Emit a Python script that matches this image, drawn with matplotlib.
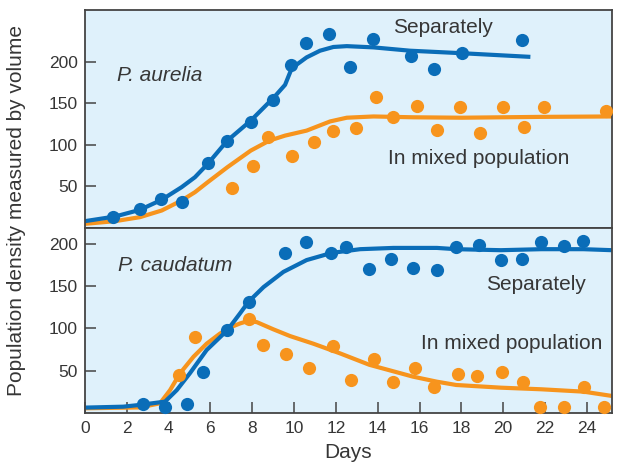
import matplotlib
matplotlib.use("Agg")
import matplotlib.pyplot as plt

# ---------------- data ----------------
# Top panel: P. aurelia
aur_sep_days = [1.35, 2.63, 3.62, 4.63, 5.87, 6.78, 7.94, 9.01, 9.86, 10.57, 11.67,
                12.68, 13.79, 15.58, 16.70, 18.04, 20.9]
aur_sep_vals = [13.6, 22.4, 34.4, 31.6, 77.6, 104.8, 126.8, 154, 195.6, 222.4, 232.9,
                192.9, 226.5, 206.5, 190.5, 209.7, 225.7]
aur_sep_curve_days = [0.0, 1.44, 2.63, 3.67, 4.62, 5.26, 5.87, 6.81, 7.93, 9.04, 9.57,
                      9.89, 10.6, 11.24, 11.88, 12.52, 13.8, 15.55, 18.02, 21.3]
aur_sep_curve_vals = [8.2, 13.8, 21.8, 33.9, 49, 61, 77, 105, 129, 157, 172,
                      192, 205, 213, 217.5, 218.5, 217, 213, 210, 205.6]

aur_mix_days = [7.05, 8.02, 8.77, 9.89, 10.97, 11.85, 12.95, 13.91, 14.75, 15.9, 16.83,
                17.94, 18.9, 19.98, 21.0, 21.96, 24.9]
aur_mix_vals = [47.6, 74.4, 109.6, 86.4, 103.6, 116.4, 119.7, 156.9, 132.9, 146.5, 117.6,
                145.6, 113.7, 145.6, 121.6, 145.6, 140.8]
aur_mix_curve_days = [0.0, 1.44, 2.63, 3.67, 4.62, 5.26, 5.87, 6.81, 7.93, 8.82, 9.57,
                      10.6, 11.72, 12.52, 13.8, 15.71, 18.02, 21.8, 25.2]
aur_mix_curve_vals = [5, 8.2, 13, 21, 33, 43, 55, 73, 93, 105, 111,
                      117, 128, 132.5, 134, 133, 132.5, 133.5, 134]

# Bottom panel: P. caudatum
cau_sep_days = [2.79, 3.83, 4.9, 5.66, 6.78, 7.85, 9.57, 10.57, 11.77, 12.49, 13.6,
                14.64, 15.68, 16.83, 17.75, 18.82, 19.89, 20.92, 21.82, 22.93, 23.84]
cau_sep_vals = [10.3, 7.4, 10.6, 48.8, 98.1, 131.6, 189.5, 202.5, 188.8, 196.6, 171,
                182, 171.8, 169.8, 195.9, 198.6, 181.6, 182.8, 202.5, 197.4, 203.7]
cau_sep_curve_days = [0.0, 1.83, 2.63, 3.83, 4.39, 5.02, 5.82, 6.81, 7.42, 7.82, 8.54,
                      9.49, 10.6, 11.8, 13.16, 14.75, 16.83, 17.75, 19.89, 21.82, 23.84, 25.2]
cau_sep_curve_vals = [6.3, 7.4, 9.5, 13.4, 27, 47, 74.5, 98, 118, 131.6, 149,
                      167, 181, 189.5, 193.9, 195.4, 195.4, 193.9, 192.7, 193.9, 193.9, 192.7]

cau_mix_days = [4.51, 5.26, 7.85, 8.53, 9.62, 10.73, 11.85, 12.71, 13.84, 14.75, 15.76,
                16.7, 17.86, 18.77, 19.94, 20.94, 23.88, 21.74, 22.92, 24.83]
cau_mix_vals = [44.9, 90.2, 110.8, 80.4, 69.4, 52.8, 79.2, 39, 63.8, 37, 53.5,
                30.4, 46.1, 44.1, 48.1, 37, 31.1, 6.7, 6.7, 6.7]
cau_mix_curve_days = [0.0, 2.63, 3.59, 4.07, 4.55, 5.19, 5.82, 6.46, 7.02, 7.42, 7.82,
                      8.22, 9.01, 9.81, 10.92, 12.2, 13.6, 15.68, 16.83, 17.75, 19.89,
                      21.82, 23.84, 25.2]
cau_mix_curve_vals = [5.5, 6.5, 11.4, 27, 47, 66.5, 82, 94, 102, 106, 109,
                      107.5, 99, 91, 82, 70.5, 57, 43, 37, 33.1, 29.9,
                      28, 25.2, 20.1]

x_ticks = [0, 2, 4, 6, 8, 10, 12, 14, 16, 18, 20, 22, 24]
y_ticks = [50, 100, 150, 200]

# ---------------- style ----------------
BLUE = "#0a6db8"
ORANGE = "#f7941d"
BG = "#dff1fb"
TXT = "#363636"
plt.rcParams['font.family'] = ['Liberation Sans', 'DejaVu Sans']

fig = plt.figure(figsize=(6.2, 4.73), dpi=100)
ax1 = fig.add_axes([0.137, 0.518, 0.850, 0.461])
ax2 = fig.add_axes([0.137, 0.127, 0.850, 0.391])

for ax in (ax1, ax2):
    ax.set_facecolor(BG)
    for s in ax.spines.values():
        s.set_color("#444444")
        s.set_linewidth(1.3)
    ax.set_xlim(0, 25.2)
    ax.set_yticks(y_ticks)
    ax.tick_params(axis='both', direction='in', length=8, width=1.1, color="#444444",
                   labelsize=12.5, labelcolor=TXT, pad=5)

ax1.set_ylim(0, 262)
ax2.set_ylim(0, 219)
ax1.set_xticks([])
ax2.set_xticks(x_ticks)
ax2.tick_params(axis='x', pad=6)

LW = 3.0
MS = 9.5
kw = dict(lw=LW, solid_capstyle='butt', solid_joinstyle='round', zorder=2)
ax1.plot(aur_mix_curve_days, aur_mix_curve_vals, color=ORANGE, **kw)
ax1.plot(aur_sep_curve_days, aur_sep_curve_vals, color=BLUE, **kw)
ax1.plot(aur_mix_days, aur_mix_vals, 'o', color=ORANGE, ms=MS, mew=0, zorder=3)
ax1.plot(aur_sep_days, aur_sep_vals, 'o', color=BLUE, ms=MS, mew=0, zorder=3)

ax2.plot(cau_mix_curve_days, cau_mix_curve_vals, color=ORANGE, **kw)
ax2.plot(cau_sep_curve_days, cau_sep_curve_vals, color=BLUE, **kw)
ax2.plot(cau_mix_days, cau_mix_vals, 'o', color=ORANGE, ms=MS, mew=0, zorder=3, clip_on=False)
ax2.plot(cau_sep_days, cau_sep_vals, 'o', color=BLUE, ms=MS, mew=0, zorder=3, clip_on=False)

FS = 15
ax1.text(1.52, 183, "P. aurelia", style='italic', fontsize=FS, color=TXT, va='center', ha='left')
ax1.text(14.74, 241, "Separately", fontsize=FS, color=TXT, va='center', ha='left')
ax1.text(14.5, 83.5, "In mixed population", fontsize=FS, color=TXT, va='center', ha='left')
ax2.text(1.59, 175, "P. caudatum", style='italic', fontsize=FS, color=TXT, va='center', ha='left')
ax2.text(19.17, 152, "Separately", fontsize=FS, color=TXT, va='center', ha='left')
ax2.text(16.05, 82.4, "In mixed population", fontsize=FS, color=TXT, va='center', ha='left')

ax2.set_xlabel("Days", fontsize=15, color=TXT, labelpad=5)
fig.text(0.027, 0.555, "Population density measured by volume", rotation=90,
         fontsize=15, color=TXT, ha='center', va='center')

fig.savefig("out.png", dpi=100)
